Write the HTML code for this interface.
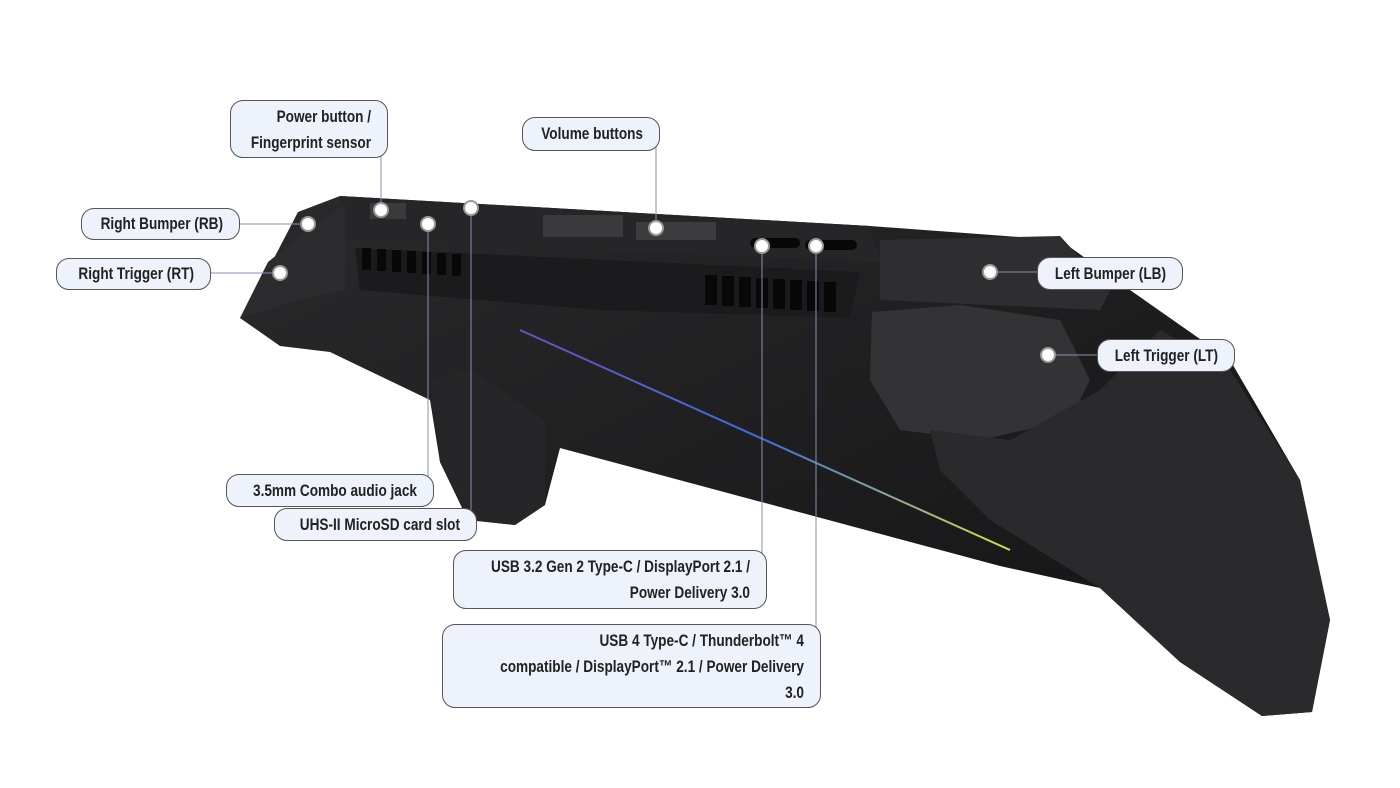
<!DOCTYPE html>
<html><head><meta charset="utf-8"><style>
body{margin:0;background:#fff;width:1400px;height:788px;overflow:hidden;position:relative;font-family:"Liberation Sans",sans-serif;}
.b{position:absolute;box-sizing:border-box;border:1px solid #555;border-radius:13px;background:#edf2fb;color:#222;font-weight:bold;font-size:17px;text-align:right;line-height:26px;padding:3px 16px 3px 0;white-space:nowrap;}
.b span{display:block;margin-left:-200px;transform:scaleX(0.8);transform-origin:right center;}
svg{position:absolute;left:0;top:0}
</style></head><body>
<svg width="1400" height="788">
<defs>
<linearGradient id="g" x1="0" y1="0" x2="1" y2="1"><stop offset="0" stop-color="#2a2a2c"/><stop offset="1" stop-color="#121213"/></linearGradient>
<linearGradient id="st" x1="0" y1="0" x2="1" y2="0"><stop offset="0" stop-color="#6a4fc0"/><stop offset="0.5" stop-color="#3b6fd8"/><stop offset="1" stop-color="#d8e04a"/></linearGradient>
</defs>
<path d="M240,318 L272,262 L298,212 L340,196 L870,226 L1060,240 L1130,290 L1230,360 L1300,480 L1330,620 L1312,712 L1262,716 L1180,662 L1100,588 L1000,566 L560,448 L545,505 L515,525 L468,520 L440,462 L430,400 L330,352 L280,346 Z" fill="url(#g)"/>
<path d="M340,196 L870,226 L880,262 L345,240 Z" fill="#262628"/>
<path d="M355,248 L860,272 L850,318 L600,310 L360,290 Z" fill="#1b1b1d"/>
<path d="M880,240 L1060,236 L1110,290 L1100,310 L880,300 Z" fill="#2e2e30"/>
<path d="M872,312 L960,305 L1060,320 L1090,380 L1070,420 L980,440 L900,430 L870,380 Z" fill="#333335"/>
<path d="M930,430 L1010,440 L1100,390 L1160,330 L1230,370 L1300,480 L1330,620 L1312,712 L1262,716 L1180,662 L1100,588 L990,520 L940,470 Z" fill="#2a2a2c"/>
<path d="M268,262 L300,236 L345,205 L345,290 L300,300 L240,318 Z" fill="#2c2c2e"/>
<path d="M430,380 L470,370 L545,420 L545,505 L515,525 L468,520 L440,462 Z" fill="#262628"/>
<g fill="#080808">
<rect x="362" y="248" width="9" height="22"/><rect x="377" y="249" width="9" height="22"/><rect x="392" y="250" width="9" height="22"/><rect x="407" y="251" width="9" height="22"/><rect x="422" y="252" width="9" height="22"/><rect x="437" y="253" width="9" height="22"/><rect x="452" y="254" width="9" height="22"/>
<rect x="705" y="275" width="12" height="30"/><rect x="722" y="276" width="12" height="30"/><rect x="739" y="277" width="12" height="30"/><rect x="756" y="278" width="12" height="30"/><rect x="773" y="279" width="12" height="30"/><rect x="790" y="280" width="12" height="30"/><rect x="807" y="281" width="12" height="30"/><rect x="824" y="282" width="12" height="30"/>
<rect x="543" y="215" width="80" height="22" fill="#3a3a3c"/>
<rect x="636" y="222" width="80" height="18" fill="#3c3c3e"/>
<rect x="750" y="238" width="50" height="10" rx="5"/><rect x="805" y="240" width="52" height="10" rx="5"/>
<rect x="370" y="203" width="36" height="16" fill="#3a3a3c"/>
</g>
<path d="M520,330 L1010,550" stroke="url(#st)" stroke-width="2"/>
<g stroke="#8a8fb5" stroke-width="1" fill="none">
<path d="M381,116 V210"/><path d="M656,134 V228"/><path d="M240,224 H308"/><path d="M211,273 H280"/>
<path d="M990,272 H1040"/><path d="M1048,355 H1097"/><path d="M428,490 V224"/><path d="M471,525 V208"/>
<path d="M762,566 V246"/><path d="M816,640 V246"/>
</g>
<g fill="#fff" stroke="#999" stroke-width="2">
<circle cx="381" cy="210" r="7"/><circle cx="656" cy="228" r="7"/><circle cx="308" cy="224" r="7"/><circle cx="280" cy="273" r="7"/>
<circle cx="990" cy="272" r="7"/><circle cx="1048" cy="355" r="7"/><circle cx="428" cy="224" r="7"/><circle cx="471" cy="208" r="7"/>
<circle cx="762" cy="246" r="7"/><circle cx="816" cy="246" r="7"/>
</g>
</svg>
<div class="b" style="left:230px;top:100px;width:158px;height:58px"><span>Power button /</span><span>Fingerprint sensor</span></div>
<div class="b" style="left:522px;top:117px;width:138px;height:34px"><span>Volume buttons</span></div>
<div class="b" style="left:81px;top:208px;width:159px;height:32px;line-height:24px"><span>Right Bumper (RB)</span></div>
<div class="b" style="left:56px;top:258px;width:155px;height:32px;line-height:24px"><span>Right Trigger (RT)</span></div>
<div class="b" style="left:1037px;top:257px;width:146px;height:33px"><span>Left Bumper (LB)</span></div>
<div class="b" style="left:1097px;top:339px;width:138px;height:33px"><span>Left Trigger (LT)</span></div>
<div class="b" style="left:226px;top:474px;width:208px;height:33px"><span>3.5mm Combo audio jack</span></div>
<div class="b" style="left:274px;top:508px;width:203px;height:33px"><span>UHS-II MicroSD card slot</span></div>
<div class="b" style="left:453px;top:550px;width:314px;height:59px"><span>USB 3.2 Gen 2 Type-C / DisplayPort 2.1 /</span><span>Power Delivery 3.0</span></div>
<div class="b" style="left:442px;top:624px;width:379px;height:84px"><span>USB 4 Type-C / Thunderbolt™ 4</span><span>compatible / DisplayPort™ 2.1 / Power Delivery</span><span>3.0</span></div>
</body></html>
